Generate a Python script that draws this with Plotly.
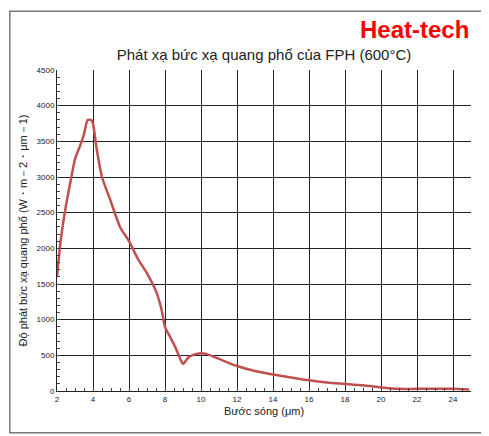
import plotly.graph_objects as go

wl = [2,2.2,2.5,2.8,3.0,3.3,3.5,3.7,3.9,4.0,4.2,4.5,5,5.5,6,6.5,7,7.5,7.8,8,8.3,8.6,8.9,9.0,9.3,9.6,10,10.3,11,12,13,14,15,16,17,18,19,20,21,22,23,24,24.9]
em = [1600,2100,2600,3000,3250,3450,3600,3800,3800,3750,3400,3000,2650,2300,2100,1850,1650,1400,1150,900,750,600,420,380,470,510,530,520,450,350,280,230,190,150,120,100,80,50,30,30,30,30,20]

fig = go.Figure(go.Scatter(x=wl, y=em, mode="lines", line=dict(color="#c0504d", width=2.5, shape="spline", smoothing=0.6)))
fig.update_layout(
    width=489, height=436, paper_bgcolor="white", plot_bgcolor="white",
    margin=dict(l=49, r=26, t=62, b=53),
    font=dict(family="Liberation Sans, Arial", color="#222"),
    title=dict(text="Phát xạ bức xạ quang phổ của FPH (600°C)", x=0.5, xref="paper", y=0.905, xanchor="center", font=dict(size=15)),
    showlegend=False,
    shapes=[dict(type="rect", xref="paper", yref="paper", x0=-0.114, x1=1.037, y0=-0.13, y1=1.183, line=dict(color="#777", width=1.5))],
    annotations=[dict(text="<b>Heat-tech</b>", xref="paper", yref="paper", x=1.0, y=1.175, xanchor="right", yanchor="top",
                      showarrow=False, font=dict(size=24, color="#ff0000", family="Liberation Sans, Arial"))],
)
fig.update_xaxes(range=[2,25], tick0=2, dtick=2, showgrid=True, gridcolor="#222", gridwidth=1, linecolor="#222",
                 tickfont=dict(size=8), ticks="inside", ticklen=3, minor=dict(dtick=0.5, ticks="inside", ticklen=3),
                 title=dict(text="Bước sóng (μm)", font=dict(size=11), standoff=4))
fig.update_yaxes(range=[0,4500], dtick=500, showgrid=True, gridcolor="#222", gridwidth=1, linecolor="#222",
                 tickfont=dict(size=8), ticks="inside", ticklen=3, minor=dict(dtick=100, ticks="inside", ticklen=3),
                 title=dict(text="Độ phát bức xạ quang phổ (W・m－2・μm－1)", font=dict(size=11), standoff=6))
fig.write_html("out.html")
